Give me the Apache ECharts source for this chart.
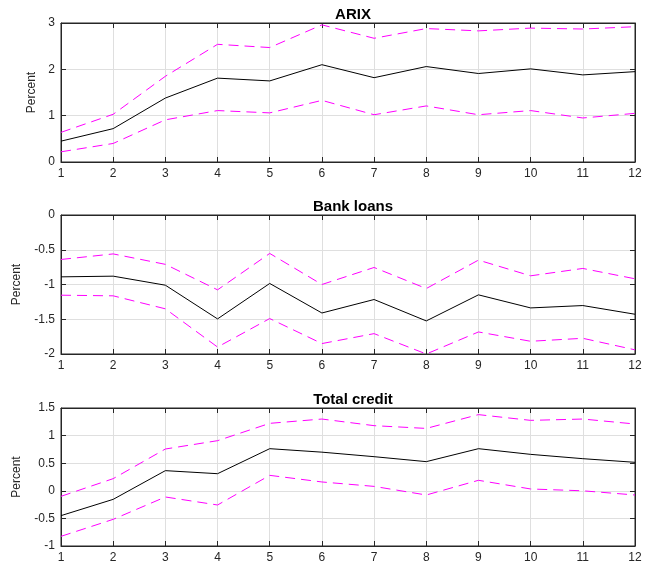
<!DOCTYPE html>
<html><head><meta charset="utf-8">
<script src="https://cdn.jsdelivr.net/npm/echarts@6/dist/echarts.min.js"></script>
<style>html,body{margin:0;padding:0;background:#fff}#c{width:645px;height:564px}</style>
</head><body><div id="c"></div>
<script>
const horizons = [1,2,3,4,5,6,7,8,9,10,11,12];
const titles = ['ARIX','Bank loans','Total credit'];
const arixMid = [0.45,0.72,1.38,1.81,1.75,2.10,1.82,2.06,1.91,2.01,1.88,1.95];
const arixUp  = [0.64,1.03,1.85,2.54,2.47,2.96,2.67,2.88,2.83,2.89,2.87,2.92];
const arixLo  = [0.22,0.40,0.91,1.11,1.06,1.33,1.02,1.21,1.02,1.11,0.95,1.05];
const loanMid = [-0.89,-0.88,-1.01,-1.495,-0.985,-1.41,-1.216,-1.524,-1.149,-1.337,-1.303,-1.428];
const loanUp  = [-0.64,-0.56,-0.71,-1.077,-0.553,-1.0,-0.755,-1.058,-0.649,-0.875,-0.769,-0.918];
const loanLo  = [-1.154,-1.163,-1.35,-1.9,-1.49,-1.85,-1.707,-2.0,-1.683,-1.817,-1.774,-1.94];
const credMid = [-0.45,-0.155,0.365,0.31,0.763,0.70,0.618,0.528,0.763,0.66,0.582,0.516];
const credUp  = [-0.10,0.22,0.757,0.908,1.222,1.30,1.18,1.13,1.38,1.276,1.30,1.21];
const credLo  = [-0.825,-0.517,-0.112,-0.257,0.28,0.16,0.08,-0.076,0.19,0.033,0.0,-0.076];
const yRanges = [[0,3,1],[-2,0,0.5],[-1,1.5,0.5]];
const yName = 'Percent';

const panels = [[arixMid,arixUp,arixLo],[loanMid,loanUp,loanLo],[credMid,credUp,credLo]];
const tops = [23,215,408];
const H = 139;
const font = 'Liberation Sans, Helvetica, Arial, sans-serif';
const axCol = '#262626';
const grid=[], xAxis=[], yAxis=[], series=[], title=[];
panels.forEach((p,i)=>{
  grid.push({left:61, right:10, top:tops[i], height:H, show:true, borderColor:axCol, borderWidth:1});
  title.push({text:titles[i], left:348, top:tops[i]-21, textAlign:'center',
    textStyle:{fontFamily:font, fontSize:15, fontWeight:'bold', color:'#000'}});
  const xb = {type:'value', gridIndex:i, min:1, max:12, interval:1,
    axisLine:{show:true, onZero:false, lineStyle:{color:axCol}},
    axisTick:{show:true, inside:true, length:5, lineStyle:{color:axCol}}};
  xAxis.push(Object.assign({}, xb, {position:'bottom',
    axisLabel:{show:true, margin:6, fontFamily:font, fontSize:12, color:axCol},
    splitLine:{show:true, lineStyle:{color:'#dfdfdf', width:1}}}));
  xAxis.push(Object.assign({}, xb, {position:'top', axisLabel:{show:false}, splitLine:{show:false}}));
  const r = yRanges[i];
  const yb = {type:'value', gridIndex:i, min:r[0], max:r[1], interval:r[2],
    axisLine:{show:true, onZero:false, lineStyle:{color:axCol}},
    axisTick:{show:true, inside:true, length:5, lineStyle:{color:axCol}}};
  yAxis.push(Object.assign({}, yb, {position:'left',
    name:yName, nameLocation:'middle', nameGap: i===0?20:38, nameRotate:90,
    nameTextStyle:{fontFamily:font, fontSize:12, color:axCol},
    axisLabel:{show:true, margin:6, fontFamily:font, fontSize:12, color:axCol},
    splitLine:{show:true, lineStyle:{color:'#dfdfdf', width:1}}}));
  yAxis.push(Object.assign({}, yb, {position:'right', axisLabel:{show:false}, splitLine:{show:false}}));
  const mk = (arr, color, type, z) => ({type:'line', xAxisIndex:2*i, yAxisIndex:2*i,
    data: horizons.map((h,k)=>[h,arr[k]]), symbol:'none', silent:true, z:z,
    lineStyle:{color:color, width:1, type:type}, clip:true});
  series.push(mk(p[1],'#ff00ff',[10,6],3));
  series.push(mk(p[2],'#ff00ff',[10,6],3));
  series.push(mk(p[0],'#000000','solid',4));
});
const chart = echarts.init(document.getElementById('c'), null, {renderer:'canvas'});
chart.setOption({animation:false, backgroundColor:'#fff', title, grid, xAxis, yAxis, series});
</script></body></html>
